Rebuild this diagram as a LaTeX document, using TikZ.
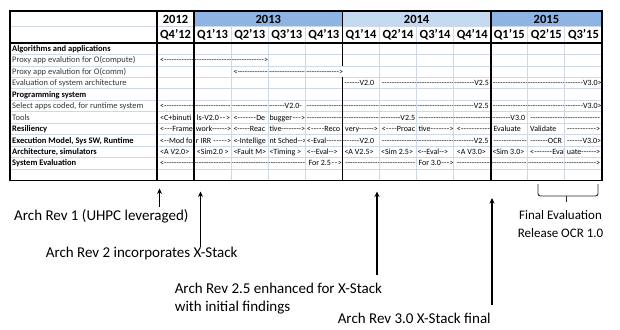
\documentclass[tikz,border=0pt]{standalone}
\usepackage{fontspec}
\setmainfont{Carlito}
\usetikzlibrary{arrows.meta}
\definecolor{gridc}{RGB}{208,215,229}
\definecolor{blueA}{RGB}{141,180,226}
\definecolor{blueB}{RGB}{197,217,241}
\definecolor{labgray}{RGB}{55,55,55}
\newcommand\hy{-\kern0pt}
\newcommand\sg[6]{%
  \pgfmathsetmacro\segw{#4-#3}%
  \pgfmathsetmacro\segy{51.4+11.45*(#2-1)}%
  \node[cell] (#1) at (#3,\segy) {\hbox to \segw pt{#5\xleaders\hbox{-}\hfill #6}};}
\newcommand\nt[4]{%
  \pgfmathsetmacro\segy{51.4+11.45*(#2-1)}%
  \node[cell] (#1) at (#3,\segy) {#4};}
\newcommand\lb[3]{%
  \pgfmathsetmacro\segy{51.4+11.45*(#1-1)}%
  \node[#2] (lab#1) at (12,\segy) {#3};}
\tikzset{
  cell/.style={anchor=base west,inner sep=0pt,font=\fontsize{8}{9}\selectfont},
  labn/.style={anchor=base west,inner sep=0pt,text=labgray,font=\fontsize{8.5}{10}\selectfont},
  labb/.style={anchor=base west,inner sep=0pt,font=\bfseries\fontsize{8.5}{10}\selectfont},
  hdr/.style={anchor=base,inner sep=0pt,font=\bfseries\fontsize{12.5}{14}\selectfont},
  grid/.style={draw=gridc,line width=0.8pt},
  blk/.style={draw=black,line width=1.1pt},
  thick/.style={draw=black,line width=1.7pt},
  ann/.style={anchor=base west,inner sep=0pt,font=\fontsize{15}{18}\selectfont},
  ann2/.style={anchor=base,inner sep=0pt,font=\fontsize{13}{15}\selectfont},
  arr/.style={draw=black,line width=1.2pt,-{Stealth[length=5.5pt,width=5pt]}},
  brace/.style={draw=black!85,line width=0.9pt,rounded corners=2.5pt}
}
\begin{document}
\begin{tikzpicture}[x=1pt,y=-1pt]
\useasboundingbox[fill=white] (0,0) rectangle (620,329);
% header fills
\fill[blueA] (194.1,11) rectangle (342.4,26.5);
\fill[blueB] (342.4,11) rectangle (490.7,26.5);
\fill[blueA] (490.7,11) rectangle (602,26.5);
% header texts
\node[hdr] (y12) at (175.5,23.2) {2012};
\node[hdr] (y13) at (268.3,23.2) {2013};
\node[hdr] (y14) at (416.6,23.2) {2014};
\node[hdr] (y15) at (546.4,23.2) {2015};
\foreach \q [count=\i from 0] in {Q4'12,Q1'13,Q2'13,Q3'13,Q4'13,Q1'14,Q2'14,Q3'14,Q4'14,Q1'15,Q2'15,Q3'15}{
  \node[hdr] (q\i) at ({157+37.08*\i+18.54},39) {\q};
}
% row labels
\lb{1}{labb}{Algorithms and applications}
\lb{2}{labn}{Proxy app evalution for O(compute)}
\lb{3}{labn}{Proxy app evalution for O(comm)}
\lb{4}{labn}{Evaluation of system architecture}
\lb{5}{labb}{Programming system}
\lb{6}{labn}{Select apps coded, for runtime system}
\lb{7}{labn}{Tools}
\lb{8}{labb}{Resiliency}
\lb{9}{labb}{Execution Model, Sys SW, Runtime}
\lb{10}{labb}{Architecture, simulators}
\lb{11}{labb}{System Evaluation}
% cell contents
\sg{r2a}{2}{160}{268}{<}{>}
\sg{r3a}{3}{233.3}{343}{<}{>}
\sg{r4a}{4}{344.3}{374}{}{V2.0}
\sg{r4b}{4}{381.5}{488.8}{}{V2.5}
\sg{r4c}{4}{492.5}{601.5}{}{V3.0>}
\sg{r6a}{6}{160}{301.7}{<}{V2.0-}
\sg{r6b}{6}{306.5}{488.5}{}{V2.5}
\sg{r6c}{6}{492.5}{601.5}{}{V3.0>}
\nt{r7a}{7}{160}{<C+binuti}
\sg{r7b}{7}{196.7}{230}{ls-V2.0}{>}
\sg{r7c}{7}{233.3}{265}{<}{De}
\sg{r7d}{7}{269.3}{305}{bugger}{>}
\sg{r7e}{7}{306.7}{415}{}{V2.5}
\sg{r7f}{7}{418.3}{525}{}{V3.0}
\sg{r7g}{7}{530}{600}{}{}
\sg{r8a}{8}{160}{192.7}{<}{Frame}
\sg{r8b}{8}{195.7}{231}{work}{>}
\sg{r8c}{8}{233.3}{265}{<}{Reac}
\sg{r8d}{8}{269.3}{305}{tive}{>}
\sg{r8e}{8}{306.7}{340}{<}{Reco}
\sg{r8f}{8}{345}{377.7}{very}{>}
\sg{r8g}{8}{381.7}{415}{<}{Proac}
\sg{r8h}{8}{418.3}{453.3}{tive}{>}
\sg{r8i}{8}{456.7}{490}{<}{}
\nt{r8j}{8}{493.3}{Evaluate}
\nt{r8k}{8}{530}{Validate}
\sg{r8l}{8}{566.7}{600}{}{>}
\nt{r9a}{9}{160}{<\hy\hy Mod fo}
\sg{r9b}{9}{195.7}{231}{r IRR }{>}
\nt{r9c}{9}{233.3}{<\hy Intellige}
\nt{r9d}{9}{269.3}{nt Sched\hy\hy>}
\sg{r9e}{9}{306.7}{374}{<\hy Eval}{V2.0}
\sg{r9f}{9}{381.7}{488.3}{}{V2.5}
\sg{r9g}{9}{493.3}{526.7}{}{}
\sg{r9h}{9}{530}{561.7}{}{OCR}
\sg{r9i}{9}{566.7}{601}{}{V3.0>}
\nt{r10a}{10}{160}{<A V2.0>}
\nt{r10b}{10}{196.7}{<Sim2.0 >}
\nt{r10c}{10}{233.3}{<Fault M>}
\nt{r10d}{10}{269.3}{<Timing >}
\nt{r10e}{10}{306.7}{<\hy\hy Eval\hy\hy>}
\nt{r10f}{10}{344.3}{<A V2.5>}
\nt{r10g}{10}{381}{<Sim 2.5>}
\nt{r10h}{10}{417.3}{<\hy\hy Eval\hy\hy>}
\nt{r10i}{10}{456.7}{<A V3.0>}
\nt{r10j}{10}{492.3}{<Sim 3.0>}
\sg{r10k}{10}{530}{565}{<}{Eval}
\sg{r10l}{10}{566.7}{600}{uate}{>}
\sg{r11a}{11}{160}{305}{<}{}
\sg{r11b}{11}{308.3}{341.7}{For 2.5}{>}
\sg{r11c}{11}{345}{415}{}{}
\sg{r11d}{11}{418.3}{453.3}{For 3.0}{>}
\sg{r11e}{11}{456.7}{600}{}{>}
% light grid
\draw[grid] (10,26.5) -- (602,26.5);
\foreach \k in {1,...,11}{
  \draw[grid] (10,{43+11.45*\k}) -- (602,{43+11.45*\k});
}
\foreach \k in {2,3,4,6,7,8,10,11}{
  \draw[grid] ({157+37.08*\k},26.5) -- ({157+37.08*\k},180.4);
}
% black lines
\draw[blk] (10,43) -- (602,43);
\draw[blk] (157,11) -- (157,180.4);
\draw[thick] (194.1,11) -- (194.1,180.4);
\draw[thick] (342.4,11) -- (342.4,65.9);
\draw[thick] (342.4,77.35) -- (342.4,180.4);
\draw[thick] (490.7,11) -- (490.7,180.4);
\draw[blk] (10,11) rectangle (602,180.4);
% annotations
\coordinate (a1s) at (159.5,207);   \coordinate (a1e) at (159.5,188.5);
\coordinate (a2s) at (200.5,246.5); \coordinate (a2e) at (200.5,191.5);
\coordinate (a3s) at (377,275);     \coordinate (a3e) at (377,191.5);
\coordinate (a4s) at (492,305);     \coordinate (a4e) at (492,198);
\draw[arr] (a1s) -- (a1e);
\draw[arr] (a2s) -- (a2e);
\draw[arr] (a3s) -- (a3e);
\draw[arr] (a4s) -- (a4e);
\node[ann] (t1) at (14,220) {Arch Rev 1 (UHPC leveraged)};
\node[ann] (t2) at (45.7,257.3) {Arch Rev 2 incorporates X-Stack};
\node[ann] (t3) at (174.6,293.3) {Arch Rev 2.5 enhanced for X-Stack};
\node[ann] (t3b) at (174.6,311.7) {with initial findings};
\node[ann] (t4) at (337.6,323.5) {Arch Rev 3.0 X-Stack final};
% brace
\coordinate (bl) at (538,184); \coordinate (bm) at (566,196);
\coordinate (br) at (598,184); \coordinate (bt) at (566,202);
\draw[brace] (bl) |- (bm) -| (br);
\draw[draw=black!85,line width=0.9pt] (bm) -- (bt);
\node[ann2] (f1) at (560.5,219) {Final Evaluation};
\node[ann2] (f2) at (560.5,237) {Release OCR 1.0};
\end{tikzpicture}
\end{document}
